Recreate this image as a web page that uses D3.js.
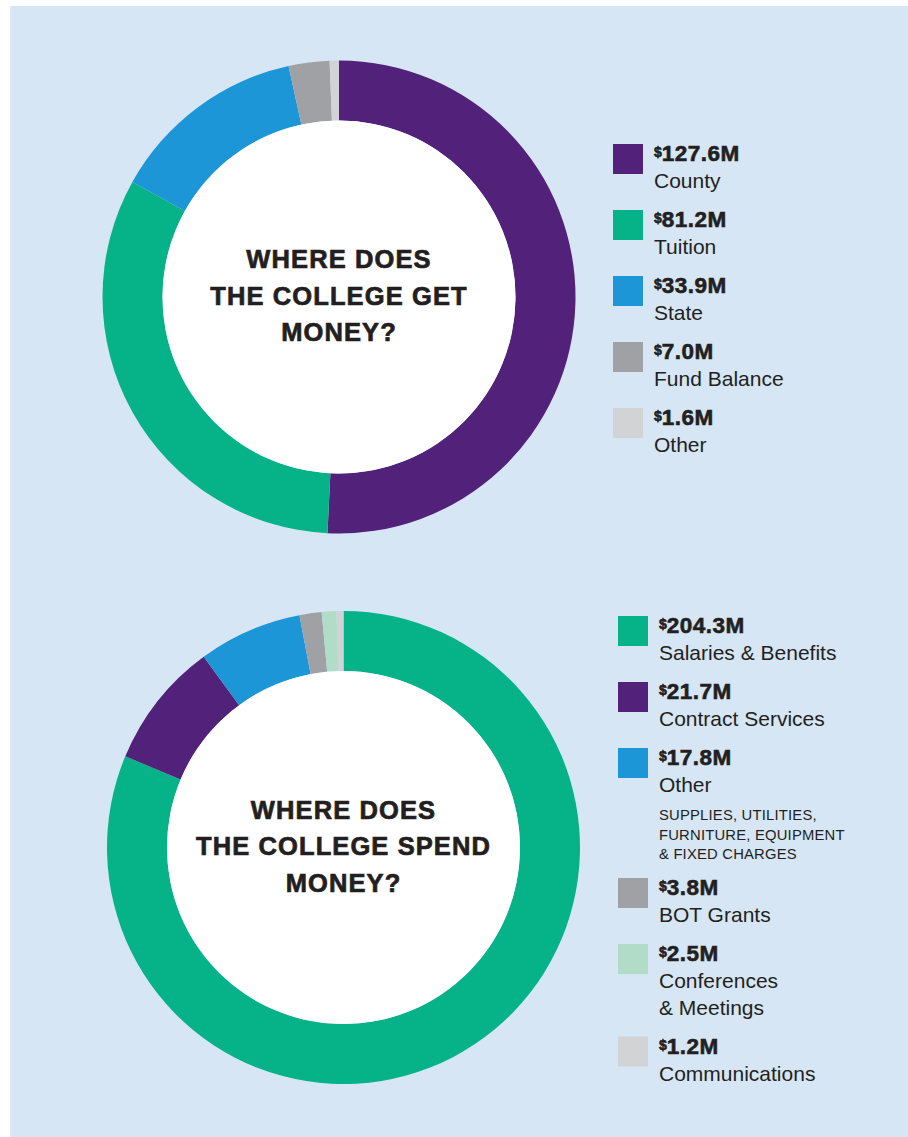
<!DOCTYPE html>
<html>
<head>
<meta charset="utf-8">
<script src="https://cdn.jsdelivr.net/npm/d3@7"></script>
<style>
  body { margin: 0; background: #ffffff; }
  svg { display: block; }
  text { font-family: "Liberation Sans", Arial, sans-serif; fill: #231f20; }
</style>
</head>
<body>
<div id="chart"></div>
<script>
// ---- data ----
const incomeLabels = ["County", "Tuition", "State", "Fund Balance", "Other"];
const incomeValues = [127.6, 81.2, 33.9, 7.0, 1.6];
const incomeColors = ["#52217a", "#06b287", "#1c96d6", "#a0a1a4", "#d1d3d4"];

const spendLabels = ["Salaries & Benefits", "Contract Services", "Other", "BOT Grants", "Conferences\n& Meetings", "Communications"];
const spendValues = [204.3, 21.7, 17.8, 3.8, 2.5, 1.2];
const spendColors = ["#06b287", "#52217a", "#1c96d6", "#a0a1a4", "#b1dcc7", "#d1d3d4"];
const spendNotes = [null, null, ["SUPPLIES, UTILITIES,", "FURNITURE, EQUIPMENT", "& FIXED CHARGES"], null, null, null];

const width = 908, height = 1137;

const svg = d3.select("#chart").append("svg")
    .attr("width", width)
    .attr("height", height);

// light blue panel
svg.append("rect")
    .attr("x", 10).attr("y", 6)
    .attr("width", width - 10).attr("height", height - 6)
    .attr("fill", "#d6e6f5");

function drawDonut(cfg) {
    let g = svg.append("g")
        .attr("transform", "translate(" + cfg.cx + "," + cfg.cy + ")");

    let pie = d3.pie().sort(null).value(d => d);
    let arc = d3.arc().innerRadius(cfg.inner).outerRadius(cfg.outer);

    g.selectAll("path")
        .data(pie(cfg.values))
        .enter().append("path")
        .attr("d", arc)
        .attr("fill", (d, i) => cfg.colors[i]);

    g.append("circle").attr("r", cfg.inner).attr("fill", "#ffffff");

    // centre title
    let title = g.append("text")
        .attr("text-anchor", "middle")
        .style("font-size", "25.5px")
        .style("font-weight", "bold")
        .style("letter-spacing", "1.1px")
        .attr("stroke", "#231f20")
        .attr("stroke-width", 0.7);
    cfg.title.forEach((line, i) => {
        title.append("tspan")
            .attr("x", 0)
            .attr("y", -29 + i * 36.5)
            .text(line);
    });

    // legend
    let y = cfg.legendY;
    cfg.values.forEach((v, i) => {
        let item = svg.append("g").attr("transform", "translate(" + cfg.legendX + "," + y + ")");
        item.append("rect")
            .attr("width", 30).attr("height", 30)
            .attr("fill", cfg.colors[i]);

        let val = item.append("text")
            .attr("x", 41).attr("y", 17)
            .style("font-weight", "bold")
            .attr("stroke", "#231f20")
            .attr("stroke-width", 0.6);
        val.append("tspan").style("font-size", "14px").attr("dy", -4).text("$");
        val.append("tspan").style("font-size", "22.5px").style("letter-spacing", "0.5px")
            .attr("dy", 4).text(d3.format(".1f")(v) + "M");

        let lines = cfg.labels[i].split("\n");
        lines.forEach((line, j) => {
            item.append("text")
                .attr("x", 41).attr("y", 44 + j * 26.5)
                .style("font-size", "21px")
                .text(line);
        });
        let extra = (lines.length - 1) * 26.5;

        let note = cfg.notes ? cfg.notes[i] : null;
        if (note) {
            note.forEach((line, j) => {
                item.append("text")
                    .attr("x", 41).attr("y", 44 + extra + 28 + j * 19.5)
                    .style("font-size", "14.8px")
                    .style("letter-spacing", "0.2px")
                    .text(line);
            });
            extra += 64;
        }
        y += 66 + extra;
    });
}

drawDonut({
    cx: 339, cy: 297, outer: 236.5, inner: 176.5,
    values: incomeValues, colors: incomeColors, labels: incomeLabels,
    title: ["WHERE DOES", "THE COLLEGE GET", "MONEY?"],
    legendX: 613, legendY: 144
});

drawDonut({
    cx: 343.5, cy: 847.5, outer: 236.5, inner: 176.5,
    values: spendValues, colors: spendColors, labels: spendLabels, notes: spendNotes,
    title: ["WHERE DOES", "THE COLLEGE SPEND", "MONEY?"],
    legendX: 618, legendY: 616
});
</script>
</body>
</html>
